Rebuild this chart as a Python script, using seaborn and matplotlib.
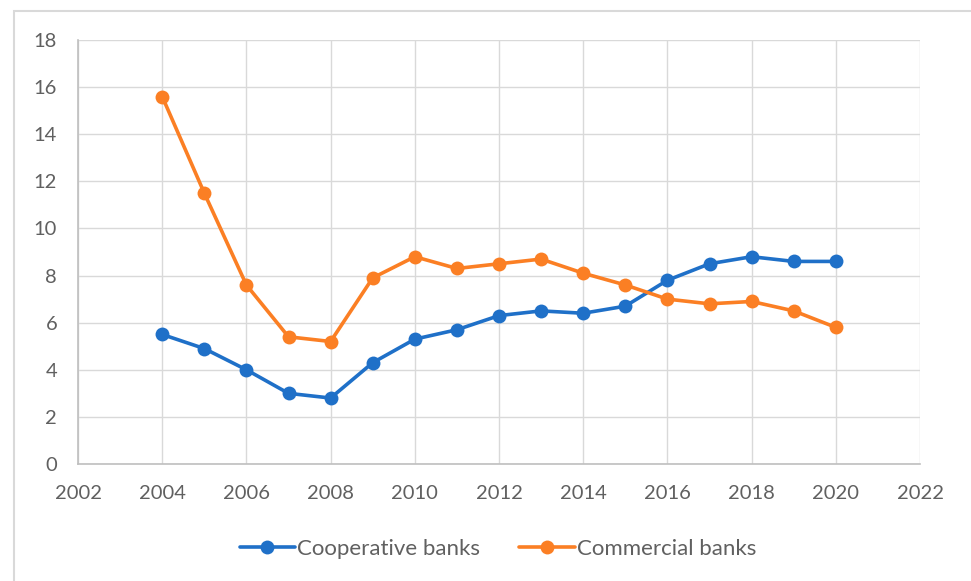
import matplotlib
matplotlib.use("Agg")
import matplotlib.pyplot as plt
import seaborn as sns
import pandas as pd
from matplotlib.patches import Rectangle

years = list(range(2004, 2021))
cooperative = [5.5, 4.9, 4.0, 3.0, 2.8, 4.3, 5.3, 5.7, 6.3, 6.5, 6.4, 6.7, 7.8, 8.5, 8.8, 8.6, 8.6]
commercial = [15.6, 11.5, 7.6, 5.4, 5.2, 7.9, 8.8, 8.3, 8.5, 8.7, 8.1, 7.6, 7.0, 6.8, 6.9, 6.5, 5.8]
series_names = ["Cooperative banks", "Commercial banks"]
x_ticks = list(range(2002, 2023, 2))
y_ticks = list(range(0, 19, 2))

df = pd.DataFrame({
    "year": years * 2,
    "value": cooperative + commercial,
    "series": [series_names[0]] * len(years) + [series_names[1]] * len(years),
})

sns.set_theme(style="white")
plt.rcParams['font.family'] = ['Lato', 'DejaVu Sans']

fig = plt.figure(figsize=(9.71, 5.81), dpi=100)
ax = fig.add_axes([78 / 971, 1 - 464 / 581, (920 - 78) / 971, (464 - 40) / 581])

palette = {series_names[0]: "#1F70C8", series_names[1]: "#FB7F24"}
sns.lineplot(data=df, x="year", y="value", hue="series", palette=palette,
             marker="o", markersize=10, markeredgewidth=0, linewidth=2.6,
             ax=ax, legend=True)

ax.set_xlim(2002, 2022)
ax.set_ylim(0, 18)
ax.set_xticks(x_ticks)
ax.set_yticks(y_ticks)
ax.grid(True, color="#D9D9D9", linewidth=1)
ax.set_axisbelow(True)
for s in ["top", "right"]:
    ax.spines[s].set_visible(False)
for s in ["left", "bottom"]:
    ax.spines[s].set_color("#BFBFBF")
    ax.spines[s].set_linewidth(1.2)
ax.set_xlabel("")
ax.set_ylabel("")
ax.tick_params(axis="both", colors="#606060", labelsize=14.5, length=0)
ax.tick_params(axis="x", pad=15)
ax.tick_params(axis="y", pad=15)

handles, labels = ax.get_legend_handles_labels()
ax.legend(handles, labels, loc="center", bbox_to_anchor=(498 / 971, 1 - 549 / 581),
          bbox_transform=fig.transFigure, ncol=2, frameon=False,
          fontsize=16, labelcolor="#606060", handlelength=2.5, handletextpad=0.1,
          columnspacing=1.75)

fig.patches.append(Rectangle((14 / 971, -0.1), 2, 1 - 11 / 581 + 0.1,
                             transform=fig.transFigure, fill=False,
                             edgecolor="#D9D9D9", linewidth=1.5))

fig.savefig("out.png", dpi=100, facecolor="white")
